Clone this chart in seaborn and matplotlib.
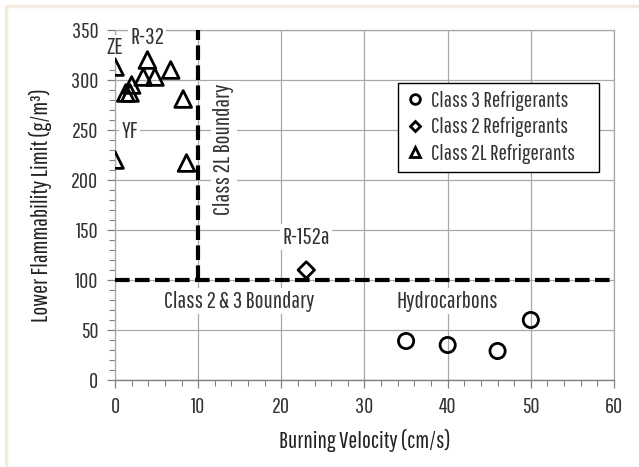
import matplotlib
matplotlib.use("Agg")
import matplotlib.pyplot as plt
from matplotlib.lines import Line2D
from matplotlib.patches import Rectangle
import seaborn as sns
import pandas as pd

# ---- data ----
class3_x = [35, 40, 46, 50]
class3_y = [39, 35, 29, 60]
class2_x = [23]
class2_y = [110]
class2l_x = [0, 3.9, 6.7, 3.4, 4.8, 2.0, 1.3, 1.8, 8.2, 0, 8.6]
class2l_y = [313, 320, 310, 303, 303, 295, 287, 287, 281, 220, 217]
class_names = ["Class 3 Refrigerants", "Class 2 Refrigerants", "Class 2L Refrigerants"]
x_ticks = [0, 10, 20, 30, 40, 50, 60]
y_ticks = [0, 50, 100, 150, 200, 250, 300, 350]

sns.set_theme(style="white")
FONT = "Pathway Gothic One"
plt.rcParams["font.family"] = [FONT, "DejaVu Sans"]

df = pd.DataFrame({
    "x": class3_x + class2_x + class2l_x,
    "y": class3_y + class2_y + class2l_y,
    "cls": [class_names[0]] * len(class3_x) + [class_names[1]] * len(class2_x)
           + [class_names[2]] * len(class2l_x),
})

fig = plt.figure(figsize=(6.39, 4.67), dpi=100)
ax = fig.add_axes([115 / 639, 1 - 380 / 467, (614 - 115) / 639, (380 - 30) / 467])

markers = {class_names[0]: "o", class_names[1]: "D", class_names[2]: "^"}
sizes = {class_names[0]: 120, class_names[1]: 70, class_names[2]: 145}
for c in class_names:
    sub = df[df["cls"] == c]
    sns.scatterplot(data=sub, x="x", y="y", marker=markers[c], s=sizes[c],
                    facecolor="none", edgecolor="black", linewidth=2.0,
                    ax=ax, zorder=6, legend=False)

ax.set_xlim(0, 60)
ax.set_ylim(0, 350)
ax.set_xticks(x_ticks)
ax.set_yticks(y_ticks)
ax.set_xticks(range(0, 61, 2), minor=True)
ax.set_yticks(range(0, 351, 10), minor=True)
ax.grid(True, which="major", color="#a8a8a8", linewidth=0.9)
ax.set_axisbelow(True)
for s in ["top", "right", "left"]:
    ax.spines[s].set_color("#a8a8a8")
    ax.spines[s].set_linewidth(0.9)
ax.spines["bottom"].set_color("#808080")
ax.spines["bottom"].set_linewidth(1.0)
ax.tick_params(axis="both", which="both", direction="out", colors="#808080",
               labelcolor="#333333", labelsize=16, bottom=True, left=True)
ax.tick_params(axis="both", which="major", length=6, width=0.9)
ax.tick_params(axis="both", which="minor", length=4, width=0.8)
ax.tick_params(axis="x", pad=6)
ax.tick_params(axis="y", pad=6)

ax.set_xlabel("Burning Velocity (cm/s)", fontsize=17, color="#222222", labelpad=9)
ax.set_ylabel("Lower Flammability Limit (g/m³)", fontsize=17, color="#222222", labelpad=14)

# boundary lines
dash = (0, (3.5, 1.3))
ax.plot([0, 60], [100, 100], color="black", lw=3, linestyle=dash,
        dash_capstyle="butt", zorder=4, clip_on=False)
ax.plot([10, 10], [100, 350], color="black", lw=3, linestyle=dash,
        dash_capstyle="butt", zorder=4)

bbox = dict(facecolor="white", edgecolor="none", pad=1.5)
tkw = dict(fontsize=17, color="#333333", ha="center", va="center", bbox=bbox, zorder=5)
ax.text(0, 332, "ZE", **tkw)
ax.text(3.85, 342, "R-32", **tkw)
ax.text(1.75, 249, "YF", **tkw)
ax.text(23, 143, "R-152a", **tkw)
ax.text(13.1, 231, "Class 2L Boundary", rotation=90, **tkw)
ax.text(14.9, 79, "Class 2 & 3 Boundary", **tkw)
ax.text(40.0, 79, "Hydrocarbons", **tkw)

handles = [
    Line2D([], [], marker="o", ls="none", mfc="none", mec="black", mew=2.0, ms=7),
    Line2D([], [], marker="D", ls="none", mfc="none", mec="black", mew=2.0, ms=5.5),
    Line2D([], [], marker="^", ls="none", mfc="none", mec="black", mew=2.0, ms=7),
]
x0 = (398 - 115) / 499
w = (599 - 398) / 499
ytop = (380 - 83) / 350
leg = ax.legend(handles, class_names, loc="upper left", mode="expand",
                bbox_to_anchor=(x0, ytop - 0.26, w, 0.26),
                frameon=True, fancybox=False, framealpha=1, edgecolor="black",
                fontsize=16, handlelength=0.8, handletextpad=0.35,
                borderpad=0.35, labelspacing=0.3, borderaxespad=0)
leg.get_frame().set_linewidth(1.0)
for t in leg.get_texts():
    t.set_color("#333333")

# beige outer frame
fig.patches.append(Rectangle((5.5 / 639, -0.1), 1.2, 1.1 - 5.5 / 467,
                             transform=fig.transFigure, fill=False,
                             edgecolor="#f3ebdf", linewidth=2.5, zorder=0))

fig.savefig("out.png", dpi=100)
